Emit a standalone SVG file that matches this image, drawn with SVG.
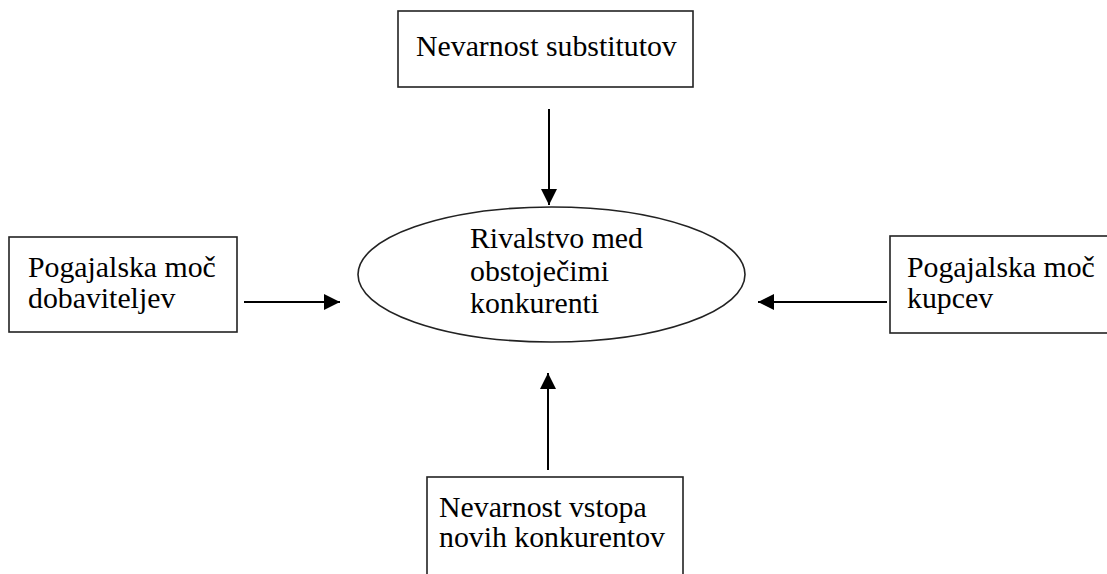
<svg xmlns="http://www.w3.org/2000/svg" width="1107" height="574" viewBox="0 0 1107 574">
<style>
.box{fill:#fff;stroke:#222;stroke-width:1.6}
.t{font-family:"Liberation Serif","Times New Roman",serif;font-size:29.8px;fill:#000}
.c{stroke:#000;stroke-width:2;fill:none}
</style>
<defs>
<marker id="ah" viewBox="0 0 16 16" refX="16" refY="8" markerWidth="16" markerHeight="16" markerUnits="userSpaceOnUse" orient="auto">
<path d="M0,0 L16,8 L0,16 Z" fill="#000"/>
</marker>
</defs>
<rect width="1107" height="574" fill="#fff"/>
<g id="connectors">
<line class="c" x1="549" y1="109" x2="549" y2="205" marker-end="url(#ah)"/>
<line class="c" x1="244" y1="302" x2="340" y2="302" marker-end="url(#ah)"/>
<line class="c" x1="887" y1="302" x2="758" y2="302" marker-end="url(#ah)"/>
<line class="c" x1="548" y1="470" x2="548" y2="373" marker-end="url(#ah)"/>
</g>
<g id="substituti">
<rect class="box" x="398" y="11" width="295" height="76"/>
<text class="t" x="416" y="56">Nevarnost substitutov</text>
</g>
<g id="rivalstvo">
<ellipse cx="551.5" cy="274.5" rx="193.5" ry="67.5" fill="#fff" stroke="#222" stroke-width="1.6"/>
<text class="t" x="470" y="248">Rivalstvo med</text>
<text class="t" x="470" y="281">obstoječimi</text>
<text class="t" x="470" y="313">konkurenti</text>
</g>
<g id="dobavitelji">
<rect class="box" x="9" y="237" width="228" height="95"/>
<text class="t" x="28" y="277">Pogajalska moč</text>
<text class="t" x="28" y="308">dobaviteljev</text>
</g>
<g id="kupci">
<rect class="box" x="890" y="236" width="230" height="97"/>
<text class="t" x="907" y="277">Pogajalska moč</text>
<text class="t" x="907" y="308">kupcev</text>
</g>
<g id="novi">
<rect class="box" x="427" y="477" width="256" height="110"/>
<text class="t" x="439" y="517">Nevarnost vstopa</text>
<text class="t" x="439" y="547">novih konkurentov</text>
</g>
</svg>
